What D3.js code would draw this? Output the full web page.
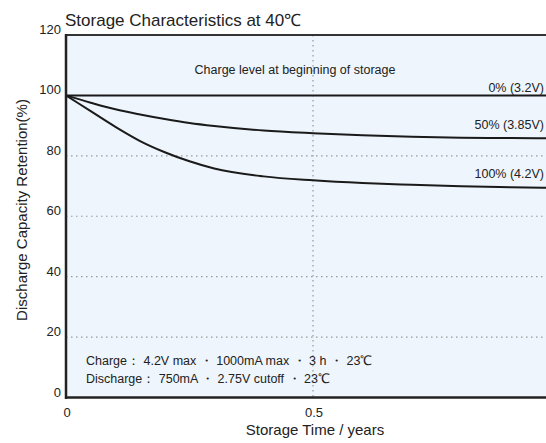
<!DOCTYPE html>
<html>
<head>
<meta charset="utf-8">
<script src="https://cdn.jsdelivr.net/npm/d3@7"></script>
<style>
  body { margin: 0; background: #fff; }
  svg { display: block; }
  text { font-family: "Liberation Sans Narrow", "Arial Narrow", "Liberation Sans", sans-serif; fill: #222; }
  .title { font-family: "Liberation Sans", Arial, sans-serif; }
</style>
</head>
<body>
<svg width="546" height="443"></svg>
<script>
var svg = d3.select("svg"),
    width = +svg.attr("width"),
    height = +svg.attr("height");

// storage time (years)
var years = [0, 0.05, 0.1, 0.15, 0.2, 0.25, 0.3, 0.4, 0.5, 0.6, 0.7, 0.8, 0.9, 1.0];
// retention (%) per initial charge level
var soc0 = [100, 100, 100, 100, 100, 100, 100, 100, 100, 100, 100, 100, 100, 100];
var soc50 = [100, 97.6, 95.4, 93.7, 92.2, 90.9, 89.9, 88.4, 87.5, 86.8, 86.3, 86.0, 85.9, 85.8];
var soc100 = [100, 94.8, 89.6, 84.9, 81.2, 78.2, 75.8, 73.2, 71.9, 71.0, 70.4, 69.9, 69.6, 69.4];
var seriesLabels = ["0% (3.2V)", "50% (3.85V)", "100% (4.2V)"];
var yTicks = [0, 20, 40, 60, 80, 100, 120];
var xTicks = [0, 0.5];

var x = d3.scaleLinear().domain([0, 1]).range([66, 560]);
var y = d3.scaleLinear().domain([0, 120]).range([397.5, 35]);

// plot background
svg.append("rect")
    .attr("x", x(0)).attr("y", y(120))
    .attr("width", x(1) - x(0)).attr("height", y(0) - y(120))
    .attr("fill", "#eef5fc");

// grid
svg.append("g").selectAll("line")
    .data([20, 40, 60, 80])
    .enter().append("line")
    .attr("x1", x(0)).attr("x2", x(1))
    .attr("y1", d => y(d)).attr("y2", d => y(d))
    .attr("stroke", "#999").attr("stroke-width", 1.2)
    .attr("stroke-dasharray", "1.5,3.5");

svg.append("line")
    .attr("x1", x(0.5)).attr("x2", x(0.5))
    .attr("y1", y(120)).attr("y2", y(0))
    .attr("stroke", "#999").attr("stroke-width", 1.2)
    .attr("stroke-dasharray", "1.5,3.5");

// curves
var line = d3.line()
    .x((d, i) => x(years[i]))
    .y(d => y(d))
    .curve(d3.curveMonotoneX);

svg.append("g").selectAll("path")
    .data([soc0, soc50, soc100])
    .enter().append("path")
    .attr("d", line)
    .attr("fill", "none")
    .attr("stroke", "#1a1a1a")
    .attr("stroke-width", 2);

// frame
svg.append("line")
    .attr("x1", x(0)).attr("x2", x(1)).attr("y1", y(120)).attr("y2", y(120))
    .attr("stroke", "#333").attr("stroke-width", 2);
svg.append("line")
    .attr("x1", x(0)).attr("x2", x(0)).attr("y1", y(120) - 1).attr("y2", y(0) + 1.5)
    .attr("stroke", "#222").attr("stroke-width", 2.5);
svg.append("line")
    .attr("x1", x(0) - 1).attr("x2", x(1)).attr("y1", y(0)).attr("y2", y(0))
    .attr("stroke", "#222").attr("stroke-width", 2.5);

// y tick labels
svg.append("g").selectAll("text")
    .data(yTicks)
    .enter().append("text")
    .attr("x", 61).attr("y", d => y(d) - 1)
    .attr("text-anchor", "end")
    .attr("font-size", 13)
    .text(d => d);

// x tick labels
svg.append("g").selectAll("text")
    .data(xTicks)
    .enter().append("text")
    .attr("x", d => x(d) + 1).attr("y", 417)
    .attr("text-anchor", "middle")
    .attr("font-size", 13)
    .text(d => d);

// series labels
var labelY = [92, 129, 178];
svg.append("g").selectAll("text")
    .data(seriesLabels)
    .enter().append("text")
    .attr("x", 544).attr("y", (d, i) => labelY[i])
    .attr("text-anchor", "end")
    .attr("font-size", 12.5)
    .text(d => d);

svg.append("text")
    .attr("x", 295).attr("y", 74)
    .attr("text-anchor", "middle")
    .attr("font-size", 12.5)
    .text("Charge level at beginning of storage");

svg.append("text")
    .attr("x", 86).attr("y", 365)
    .attr("font-size", 12.5)
    .text("Charge： 4.2V max ・ 1000mA max ・ 3 h ・ 23℃");
svg.append("text")
    .attr("x", 86).attr("y", 383)
    .attr("font-size", 12.5)
    .text("Discharge： 750mA ・ 2.75V cutoff ・ 23℃");

// titles
svg.append("text")
    .attr("class", "title")
    .attr("x", 65).attr("y", 26)
    .attr("font-size", 17)
    .text("Storage Characteristics at 40℃");

svg.append("text")
    .attr("x", 315).attr("y", 435)
    .attr("text-anchor", "middle")
    .attr("font-size", 15)
    .text("Storage Time / years");

svg.append("text")
    .attr("transform", "translate(27,210) rotate(-90)")
    .attr("text-anchor", "middle")
    .attr("font-size", 15)
    .text("Discharge Capacity Retention(%)");
</script>
</body>
</html>
